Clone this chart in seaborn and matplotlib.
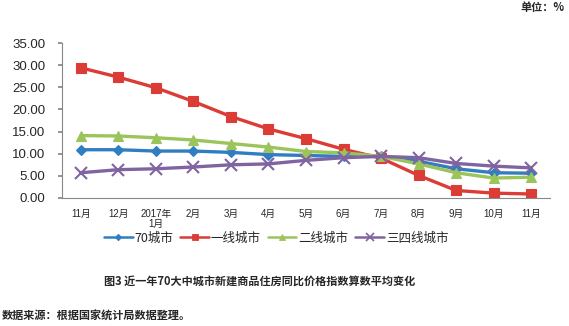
import matplotlib
matplotlib.use("Agg")
import matplotlib.pyplot as plt
from matplotlib.lines import Line2D
import seaborn as sns
import pandas as pd
import numpy as np

sns.set_theme(style="white")
plt.rcParams['font.family'] = ['Liberation Sans', 'Noto Sans CJK SC', 'DejaVu Sans']

months = ["11月", "12月", "2017年\n1月", "2月", "3月", "4月", "5月", "6月", "7月", "8月", "9月", "10月", "11月"]
city70 = [10.9, 10.9, 10.6, 10.6, 10.3, 9.8, 9.6, 9.4, 9.4, 8.3, 6.6, 5.7, 5.6]
tier1 = [29.4, 27.3, 24.9, 21.8, 18.4, 15.6, 13.4, 11.0, 9.0, 5.1, 1.7, 1.1, 0.9]
tier2 = [14.1, 14.0, 13.6, 13.1, 12.3, 11.5, 10.5, 10.2, 9.4, 7.7, 5.7, 4.5, 4.7]
tier34 = [5.7, 6.4, 6.6, 7.0, 7.5, 7.7, 8.5, 9.1, 9.4, 9.1, 7.8, 7.2, 6.8]
series_names = ["70城市", "一线城市", "二线城市", "三四线城市"]

df = pd.DataFrame({
    "idx": list(range(len(months))) * 4,
    "value": city70 + tier1 + tier2 + tier34,
    "series": sum([[n] * len(months) for n in series_names], []),
})

colors = {"70城市": "#2F7EC1", "一线城市": "#DC3C36", "二线城市": "#9BC45A", "三四线城市": "#8064A2"}
markers = {"70城市": "D", "一线城市": "s", "二线城市": "^", "三四线城市": "x"}
msize = {"70城市": 5, "一线城市": 7, "二线城市": 7, "三四线城市": 8}

fig = plt.figure(figsize=(5.69, 3.26), dpi=100)
ax = fig.add_axes([62/569, 1 - 198/326, (550-62)/569, (198-43)/326])

for name in series_names:
    sub = df[df.series == name]
    sns.lineplot(data=sub, x="idx", y="value", ax=ax, color=colors[name], lw=2.4,
                 marker=markers[name], markersize=msize[name],
                 markeredgecolor=colors[name], markeredgewidth=1.5 if name == "三四线城市" else 0.8,
                 legend=False)

ax.set_xlim(-0.5, len(months) - 0.5)
ax.set_ylim(0, 35)
ax.set_yticks(np.arange(0, 35.1, 5))
ax.set_yticklabels([f"{v:.2f}" for v in np.arange(0, 35.1, 5)], fontsize=9.5)
ax.set_xticks(range(len(months)))
ax.set_xticklabels(months, fontsize=7, linespacing=1.0)
ax.set_xticks(np.arange(-0.5, len(months), 1), minor=True)
ax.tick_params(axis='x', which='major', length=0, pad=8)
ax.tick_params(axis='x', which='minor', length=4, color='#888888', direction='out')
ax.tick_params(axis='y', length=3, color='#888888', direction='out', pad=9, left=True)
ax.set_xlabel("")
ax.set_ylabel("")
for s in ["top", "right"]:
    ax.spines[s].set_visible(False)
for s in ["left", "bottom"]:
    ax.spines[s].set_color("#888888")
    ax.spines[s].set_linewidth(0.8)

handles = [Line2D([], [], color=colors[n], lw=1.8, marker=markers[n],
                  markersize=msize[n] * 0.65, markeredgecolor=colors[n],
                  markeredgewidth=1.2 if n == "三四线城市" else 0.6) for n in series_names]
fig.legend(handles, series_names, loc='center', bbox_to_anchor=(276/569, 1 - 238/326), ncol=4,
           frameon=False, handlelength=2.3, columnspacing=0.55, handletextpad=0.15,
           prop={'family': ['Noto Sans CJK SC'], 'size': 9})

fig.text(260/569, 1 - 281/326, "图3 近一年70大中城市新建商品住房同比价格指数算数平均变化",
         ha='center', va='center', fontsize=8, fontweight='bold', family=['Noto Sans CJK SC'])
fig.text(2/569, 1 - 316/326, "数据来源：根据国家统计局数据整理。",
         ha='left', va='center', fontsize=8, fontweight='bold', family=['Noto Sans CJK SC'])
fig.text(565/569, 1 - 7/326, "单位：%",
         ha='right', va='center', fontsize=8, fontweight='bold', family=['Noto Sans CJK SC'])

fig.savefig("out.png", dpi=100)
